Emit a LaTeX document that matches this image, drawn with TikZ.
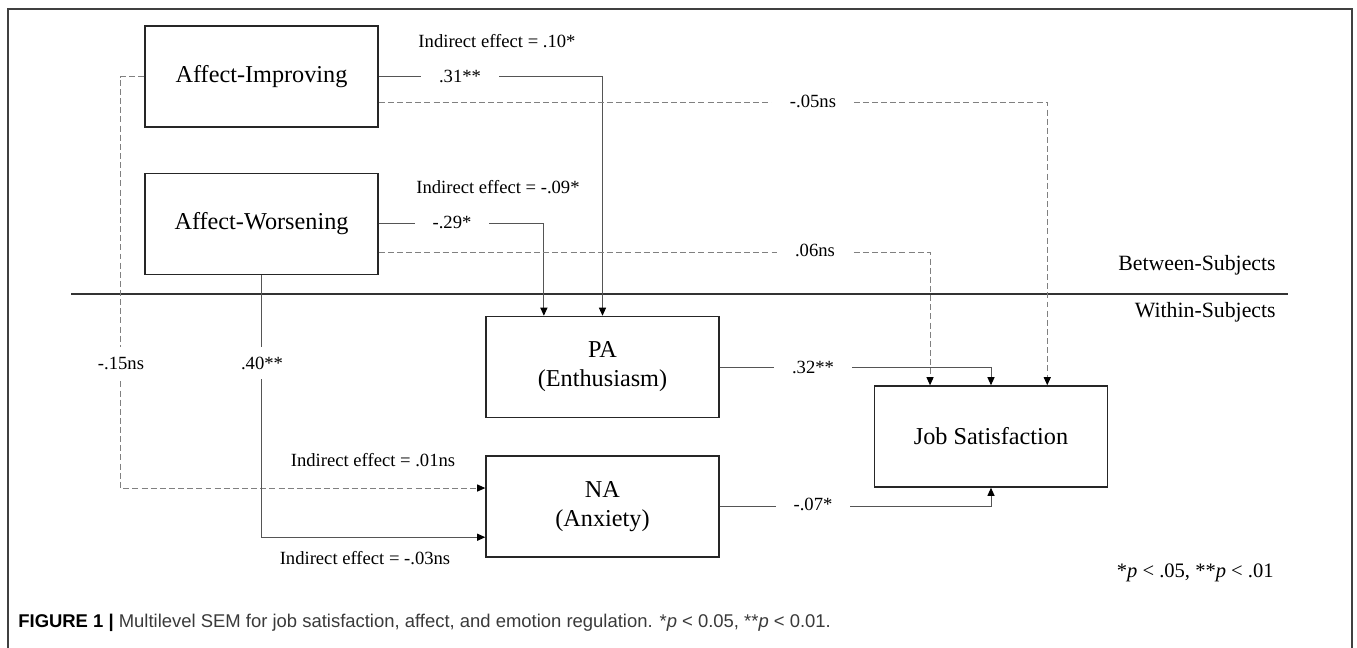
\documentclass[tikz,border=0pt]{standalone}
\usepackage{fontspec}
\setmainfont{Liberation Serif}
\newfontfamily\capfont{Liberation Sans}
\usetikzlibrary{calc,positioning,arrows.meta}
\definecolor{lineg}{HTML}{555555}
\definecolor{dashg}{HTML}{808080}
\definecolor{capg}{HTML}{3A3A3A}

\begin{document}
\begin{tikzpicture}[x=0.02cm, y=-0.02cm,
    box/.style={draw=black!85, line width=0.85pt, rectangle, minimum width=4.66cm,
      minimum height=2.02cm, align=center, font=\fontsize{13.8}{16.5}\selectfont},
    conn/.style={draw=lineg, line width=0.55pt, -{Triangle[length=4.6pt,width=4pt,color=black]}},
    dconn/.style={conn, draw=dashg, dash pattern=on 3.4pt off 1.8pt},
    coef/.style={fill=white, inner xsep=0.36cm, inner ysep=1pt, font=\fontsize{10.6}{12}\selectfont},
    vcoef/.style={coef, inner xsep=2pt, inner ysep=0.2cm},
    note/.style={inner sep=0pt, font=\fontsize{10.6}{12}\selectfont}]
  \useasboundingbox (0,0) rectangle (1357,647);
  \draw[black!75, line width=0.6pt] (8,9) rectangle (1352,700);

  % boxes
  \node[box] (ai) at (261.5,76.5) {Affect-Improving};
  \node[box, below=0.9cm of ai] (aw) {Affect-Worsening};
  \node[box] (pa) at (602.5,367) {PA\\(Enthusiasm)};
  \node[box, below=0.74cm of pa] (na) {NA\\(Anxiety)};
  \node[box] (js) at (991,436.5) {Job Satisfaction};

  % levels
  \draw[black!80, line width=0.6pt] (71,294) -- (1288,294);
  \node[inner sep=0pt, anchor=east, font=\fontsize{12.4}{14}\selectfont] (btw) at (1276,265) {Between-Subjects};
  \node[inner sep=0pt, anchor=east, font=\fontsize{12.4}{14}\selectfont] (wth) at (1276,312) {Within-Subjects};

  % paths
  \draw[conn] (ai.east) -| (pa.north);
  \draw[conn] (aw.east) -| ($(pa.north west)!0.25!(pa.north east)$);
  \draw[dconn] ($(ai.north east)!0.75!(ai.south east)$) -| ($(js.north west)!0.74!(js.north east)$);
  \draw[dconn] ($(aw.north east)!0.78!(aw.south east)$) -| ($(js.north west)!0.24!(js.north east)$);
  \draw[dconn] (ai.west) -- ++(-24,0) |- ($(na.north west)!0.32!(na.south west)$);
  \draw[conn] (aw.south) |- ($(na.north west)!0.8!(na.south west)$);
  \draw[conn] (pa.east) -| (js.north);
  \draw[conn] (na.east) -| (js.south);

  % coefficients
  \node[coef] (c1) at (460,76) {.31**};
  \node[coef] (c2) at (452,222) {-.29*};
  \node[coef] (c3) at (813,101) {-.05ns};
  \node[coef] (c4) at (815,250) {.06ns};
  \node[coef] (c5) at (813,367) {.32**};
  \node[coef] (c6) at (813,504) {-.07*};
  \node[vcoef] (c7) at (121,363) {-.15ns};
  \node[vcoef] (c8) at (262,363) {.40**};

  % indirect effects
  \node[note] (ie1) at (497,41) {Indirect effect = .10*};
  \node[note] (ie2) at (498,187) {Indirect effect = -.09*};
  \node[note] (ie3) at (373,460) {Indirect effect = .01ns};
  \node[note] (ie4) at (365,558) {Indirect effect = -.03ns};

  \node[inner sep=0pt, anchor=east, font=\fontsize{11.7}{13}\selectfont] (sig) at (1274,573)
    {*\textit{p} < .05, **\textit{p} < .01};

  % caption
  \node[inner sep=0pt, anchor=west, text=capg, font=\capfont\fontsize{10.5}{12}\selectfont] (cap) at (18,623)
    {\textbf{\color{black}FIGURE 1 |} Multilevel SEM for job satisfaction, affect, and emotion regulation. *\textit{p} < 0.05, **\textit{p} < 0.01.};
\end{tikzpicture}
\end{document}
